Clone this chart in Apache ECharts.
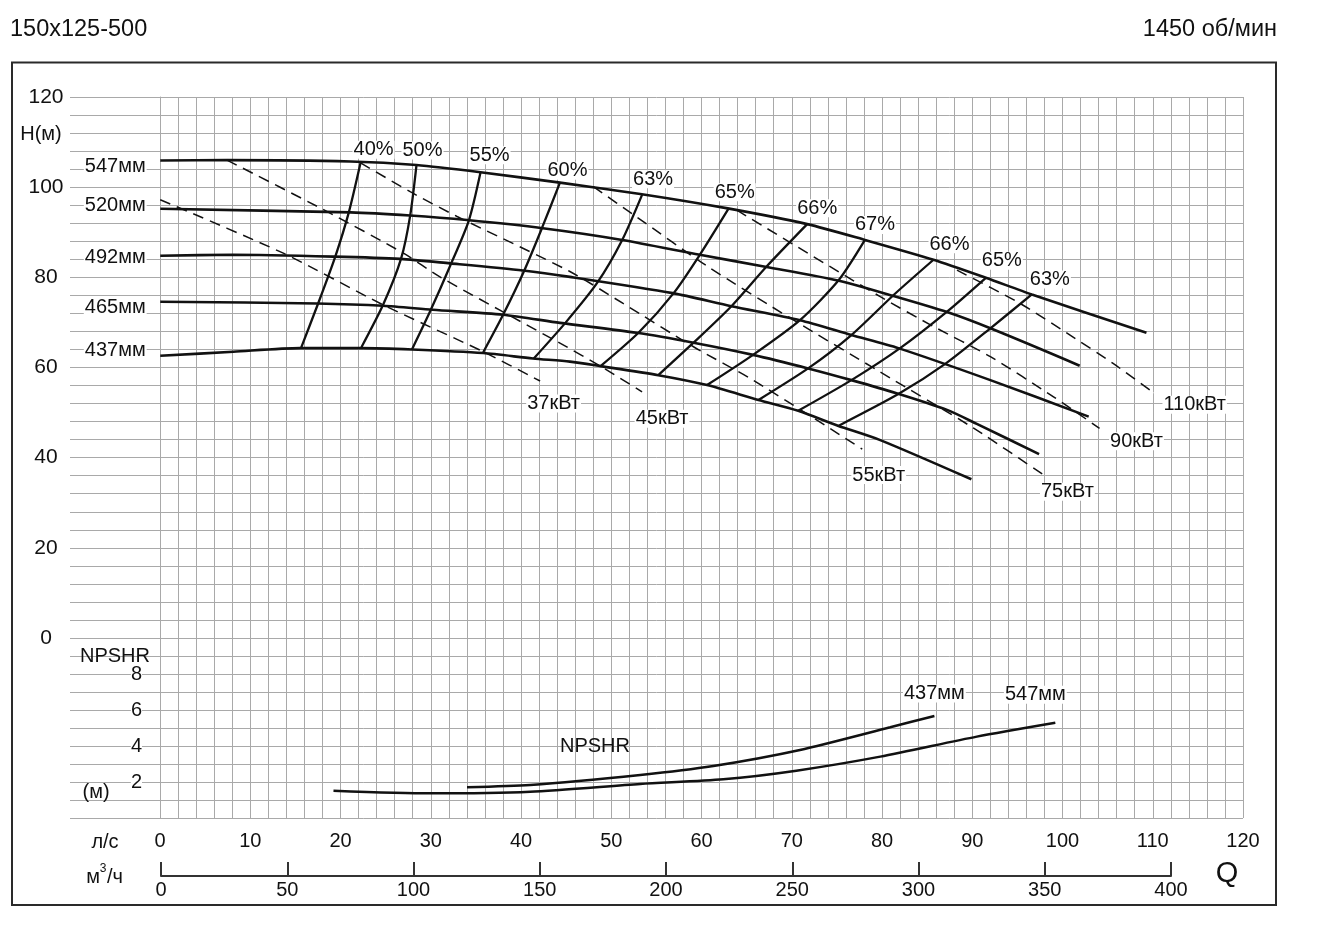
<!DOCTYPE html>
<html>
<head>
<meta charset="utf-8">
<script src="https://cdn.jsdelivr.net/npm/echarts@6/dist/echarts.min.js"></script>
<style>html,body{margin:0;padding:0;background:#fff}#c{width:1340px;height:950px}</style>
</head>
<body>
<div id="c"></div>
<script>
// ---------------- DATA (Q in l/s, H in m, NPSHR in m) ----------------
const diameters = ['547мм', '520мм', '492мм', '465мм', '437мм'];
const h547 = [[0,105.9],[7.4,106.0],[21.1,105.7],[28.4,104.9],[35.5,103.3],[44.3,101.0],[53.2,98.5],[62.9,95.3],[71.7,91.8],[78.1,88.3],[85.7,83.9],[91.5,79.9],[96.6,76.2],[109.3,67.7]];
const h520 = [[0,95.2],[21.1,94.4],[27.7,93.7],[34.0,92.7],[42.4,90.9],[51.2,88.3],[59.8,85.0],[67.2,82.3],[75.1,79.3],[81.2,75.9],[87.2,72.3],[92.0,68.7],[101.9,60.4]];
const h492 = [[0,84.8],[8.1,85.0],[19.2,84.6],[26.6,84.1],[32.1,83.1],[40.2,81.5],[45.4,80.1],[56.8,76.5],[63.3,73.6],[70.9,70.5],[76.6,67.2],[81.8,64.3],[92.0,57.2],[102.9,49.1]];
const h465 = [[0,74.6],[17.4,74.2],[24.7,73.7],[30.2,72.8],[38.0,71.7],[44.3,69.9],[52.8,67.7],[59.1,65.5],[65.7,62.8],[71.8,59.8],[76.6,57.2],[81.6,54.3],[87.2,50.6],[90.5,47.5],[97.4,40.8]];
const h437 = [[0,62.6],[8.1,63.5],[15.5,64.3],[22.2,64.3],[27.9,64.0],[35.8,63.2],[41.3,62.0],[45.4,61.3],[48.8,60.3],[55.2,58.3],[60.6,56.1],[66.3,52.8],[70.7,50.4],[75.1,47.1],[79.8,43.9],[89.9,35.2]];
const headCurves = [h547, h520, h492, h465, h437];

const effLabels = ['40%', '50%', '55%', '60%', '63%', '65%', '66%', '67%', '66%', '65%', '63%'];
const e40  = [[22.2,105.4],[20.9,94.4],[19.4,84.6],[17.5,74.2],[15.6,64.3]];
const e50  = [[28.4,104.9],[27.7,93.7],[26.7,84.2],[24.7,73.9],[22.3,64.5]];
const e55  = [[35.5,103.3],[34.2,92.6],[32.1,82.4],[29.9,72.4],[27.9,64.0]];
const e60  = [[44.3,101.0],[42.3,90.9],[40.3,81.3],[38.0,71.7],[35.8,63.4]];
const e63  = [[53.4,98.3],[51.2,88.3],[48.4,78.7],[44.9,69.9],[41.4,62.0]];
const e65  = [[63.0,95.3],[59.8,85.0],[56.9,76.5],[53.0,67.7],[48.8,60.3]];
const e66  = [[71.7,91.8],[67.2,82.4],[63.3,73.6],[59.1,65.5],[55.2,58.3]];
const e67  = [[78.1,88.3],[75.2,79.4],[70.9,70.5],[65.7,62.8],[60.6,56.1]];
const e66b = [[85.7,83.9],[81.4,76.3],[76.6,67.2],[71.8,59.8],[66.3,52.8]];
const e65b = [[91.5,79.9],[87.2,72.4],[82.0,64.3],[76.6,57.2],[70.7,50.4]];
const e63b = [[96.6,76.2],[92.0,68.7],[87.0,60.8],[81.8,54.1],[75.2,47.1]];
const effLines = [e40, e50, e55, e60, e63, e65, e66, e67, e66b, e65b, e63b];

const powerLabels = ['37кВт', '45кВт', '55кВт', '75кВт', '90кВт', '110кВт'];
const p37  = [[0,97.2],[13.7,85.3],[24.7,73.9],[35.8,63.5],[42.1,57.0]];
const p45  = [[7.4,106.0],[18.1,95.0],[27.0,85.3],[31.0,80.1],[44.3,65.4],[48.8,60.3],[53.4,54.6]];
const p55  = [[22.2,105.4],[27.7,99.0],[32.9,93.5],[45.4,81.3],[51.3,74.2],[59.1,64.6],[65.7,57.2],[77.8,41.9]];
const p75  = [[48.0,100.1],[52.8,93.4],[60.6,82.5],[70.2,70.5],[79.8,59.0],[90.1,46.6],[98.1,35.9]];
const p90  = [[63.9,94.9],[79.8,75.7],[85.7,69.1],[92.0,62.4],[99.0,53.5],[104.1,46.5]];
const p110 = [[88.3,81.6],[95.3,74.2],[100.5,67.6],[105.6,60.9],[110.1,54.4]];
const powerLines = [p37, p45, p55, p75, p90, p110];

const npshLabels = ['437мм', '547мм'];
const n437 = [[34.0,1.71],[41.0,1.83],[53.2,2.39],[61.3,2.89],[70.9,3.78],[80.9,5.04],[85.8,5.67]];
const n547 = [[19.2,1.52],[29.9,1.37],[41.0,1.46],[53.2,1.89],[62.4,2.15],[70.5,2.63],[79.8,3.41],[90.5,4.52],[99.2,5.29]];
const npshCurves = [n437, n547];

const hTickLabels = [0, 20, 40, 60, 80, 100, 120];
const npshTickLabels = [2, 4, 6, 8];
const qLsTickLabels = [0, 10, 20, 30, 40, 50, 60, 70, 80, 90, 100, 110, 120];

// ---------------- LAYOUT / STYLE ----------------
const FONT = "'Liberation Sans', Arial, Helvetica, sans-serif";
const INK = '#111111';
const GRIDC = '#a9a9a9';
const L = 70, R = 1243, T = 97, M = 638, B = 818, Q0 = 160;

const diamLabelOffset = [[-45,6],[-45,-3],[-45,2],[-45,6],[-45,-5]];
const effLabelOffset = [[13,-13],[6,-14.5],[9,-17],[7.5,-12],[11,-15.5],[6,-16],[10,-16],[10,-15],[16,-15.5],[16,-17],[18,-15]];
const powerLabelOffset = [[13.5,22.5],[20,27],[16.5,26],[22,15.5],[37,13],[41,12]];
const npshLabelOffset = [[0,-22.5],[-20,-28]];

function lab(text, off) {
  return {show: true, position: 'inside', offset: off, formatter: text,
    fontFamily: FONT, fontSize: 20, color: INK, opacity: 1,
    textBorderWidth: 0, textBorderColor: 'transparent', textShadowBlur: 0,
    backgroundColor: '#fff', padding: [0, 1], lineHeight: 18};
}

const series = [];
headCurves.forEach(d => series.push({type: 'line', xAxisIndex: 0, yAxisIndex: 0, data: d, symbol: 'none', showSymbol: false,
  smooth: 0.25, lineStyle: {color: INK, width: 2.6}, z: 4, silent: true}));
effLines.forEach(d => series.push({type: 'line', xAxisIndex: 0, yAxisIndex: 0, data: d, symbol: 'none', showSymbol: false,
  smooth: 0.25, lineStyle: {color: INK, width: 2.3}, z: 4, silent: true}));
powerLines.forEach(d => series.push({type: 'line', xAxisIndex: 0, yAxisIndex: 0, data: d, symbol: 'none', showSymbol: false,
  smooth: 0.25, lineStyle: {color: INK, width: 1.5, type: [11, 7]}, z: 3, silent: true}));
npshCurves.forEach(d => series.push({type: 'line', xAxisIndex: 1, yAxisIndex: 1, data: d, symbol: 'none', showSymbol: false,
  smooth: 0.25, lineStyle: {color: INK, width: 2.5}, z: 4, silent: true}));

const labelItems = [];
headCurves.forEach((d, i) => labelItems.push({value: d[0], label: lab(diameters[i], diamLabelOffset[i])}));
effLines.forEach((d, i) => labelItems.push({value: d[0], label: lab(effLabels[i], effLabelOffset[i])}));
powerLines.forEach((d, i) => labelItems.push({value: d[d.length - 1], label: lab(powerLabels[i], powerLabelOffset[i])}));
series.push({type: 'scatter', xAxisIndex: 0, yAxisIndex: 0, symbolSize: 1, itemStyle: {color: '#fff', opacity: 1},
  data: labelItems, z: 2, silent: true, clip: false});
series.push({type: 'scatter', xAxisIndex: 1, yAxisIndex: 1, symbolSize: 1, itemStyle: {color: '#fff', opacity: 1},
  data: npshCurves.map((d, i) => ({value: d[d.length - 1], label: lab(npshLabels[i], npshLabelOffset[i])})),
  z: 2, silent: true, clip: false});

function txt(text, x, y, size, align, extra) {
  return Object.assign({type: 'text', x: x, y: y, silent: true, z: 20,
    style: {text: text, fontSize: size, fontFamily: FONT, fill: INK, textAlign: align || 'center',
      textVerticalAlign: 'middle', verticalAlign: 'middle'}}, extra || {});
}

const option = {
  animation: false,
  backgroundColor: '#fff',
  grid: [
    {left: L, top: T, width: R - L, height: M - T, outerBoundsMode: 'none'},
    {left: L, top: M, width: R - L, height: B - M, outerBoundsMode: 'none'},
    {left: Q0, top: T, width: R - Q0, height: B - T, outerBoundsMode: 'none'},
    {left: 161, top: 800, width: 1010, height: 76, outerBoundsMode: 'none'}
  ],
  xAxis: [
    {gridIndex: 0, type: 'value', min: -10, max: 120, show: false},
    {gridIndex: 1, type: 'value', min: -10, max: 120, show: false},
    {gridIndex: 2, type: 'value', min: 0, max: 120, interval: 2,
      axisLine: {show: false}, axisTick: {show: false},
      splitLine: {show: true, lineStyle: {color: GRIDC, width: 1}},
      axisLabel: {formatter: v => qLsTickLabels.includes(v) ? String(v) : '', margin: 13,
        fontSize: 20, fontFamily: FONT, color: INK}},
    {gridIndex: 3, type: 'value', min: 0, max: 400, interval: 50,
      axisLine: {show: true, lineStyle: {color: '#333', width: 2}},
      axisTick: {show: true, inside: true, length: 14, lineStyle: {color: '#333', width: 2}},
      splitLine: {show: false},
      axisLabel: {margin: 4, fontSize: 20, fontFamily: FONT, color: INK}}
  ],
  yAxis: [
    {gridIndex: 0, type: 'value', min: 0, max: 120, interval: 4,
      axisLine: {show: true, lineStyle: {color: GRIDC, width: 1}}, axisTick: {show: false},
      splitLine: {show: true, lineStyle: {color: GRIDC, width: 1}},
      axisLabel: {formatter: v => hTickLabels.includes(v) ? String(v) : '', align: 'center', margin: 24,
        fontSize: 21, fontFamily: FONT, color: INK}},
    {gridIndex: 1, type: 'value', min: 0, max: 10, interval: 1,
      axisLine: {show: true, lineStyle: {color: GRIDC, width: 1}}, axisTick: {show: false},
      splitLine: {show: true, lineStyle: {color: GRIDC, width: 1}},
      axisLabel: {inside: true, align: 'right', margin: 72,
        formatter: v => npshTickLabels.includes(v) ? String(v) : '',
        fontSize: 20, fontFamily: FONT, color: INK, backgroundColor: '#fff'}},
    {gridIndex: 2, type: 'value', min: 0, max: 1, show: false},
    {gridIndex: 3, type: 'value', min: 0, max: 1, show: false}
  ],
  graphic: [
    {type: 'rect', silent: true, z: 20, shape: {x: 12, y: 62.5, width: 1264, height: 842.5},
      style: {fill: 'none', stroke: '#2a2a2a', lineWidth: 2}},
    txt('150x125-500', 10, 30, 23.5, 'left'),
    txt('1450 об/мин', 1277, 30, 23.5, 'right'),
    txt('H(м)', 41, 134, 20),
    txt('NPSHR', 115, 656, 20),
    txt('(м)', 96, 792, 20),
    txt('л/с', 105, 842, 20),
    txt('м', 93, 877, 20),
    txt('3', 103, 869, 12),
    txt('/ч', 115, 877, 20),
    txt('Q', 1227, 874, 29),
    Object.assign(txt('NPSHR', 595, 746, 20), {z: 5})
  ],
  series: series
};

const chart = echarts.init(document.getElementById('c'), null, {renderer: 'canvas'});
chart.setOption(option);
</script>
</body>
</html>
